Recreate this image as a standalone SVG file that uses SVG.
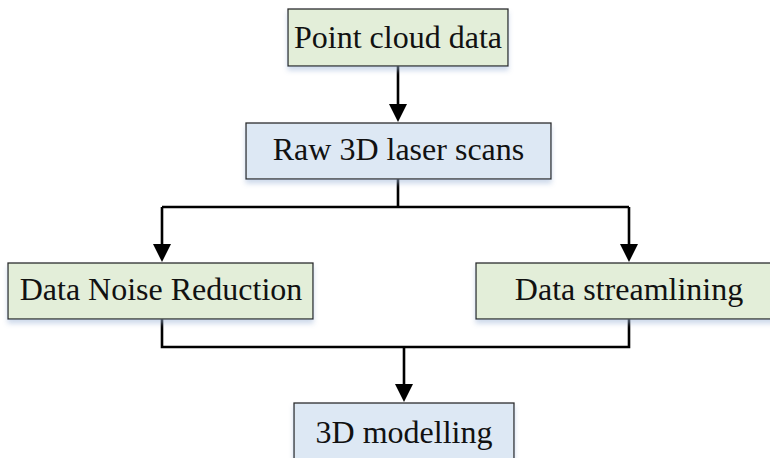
<svg xmlns="http://www.w3.org/2000/svg" width="770" height="458" viewBox="0 0 770 458">
<style>
.box{stroke:#2b2b2b;stroke-width:1.3;filter:url(#sh)}
.g{fill:#e3eed9}
.b{fill:#dde8f4}
.t{font-family:'Liberation Serif','Times New Roman','DejaVu Serif',serif;font-size:32px;fill:#111;text-anchor:middle}
.c{fill:none;stroke:#000;stroke-width:2.6}
</style>
<defs>
<filter id="sh" x="-10%" y="-20%" width="120%" height="160%">
<feGaussianBlur in="SourceAlpha" stdDeviation="2.5"/>
<feOffset dx="0" dy="4" result="o"/>
<feFlood flood-color="#9fb6d8" flood-opacity="0.5"/>
<feComposite in2="o" operator="in"/>
<feMerge><feMergeNode/><feMergeNode in="SourceGraphic"/></feMerge>
</filter>
</defs>
<g id="connectors">
<line class="c" x1="398" y1="66" x2="398" y2="106"/>
<path d="M389,104 L407,104 L398,122 Z"/>
<path class="c" d="M398,179 V207 M162,207 H629 M162,207 V246 M629,207 V246"/>
<path d="M153,244 L171,244 L162,262 Z"/>
<path d="M620,244 L638,244 L629,262 Z"/>
<path class="c" d="M162,319 V347 H629 V319 M404,347 V386"/>
<path d="M395,384 L413,384 L404,402 Z"/>
</g>
<g id="n1"><rect class="box g" x="288" y="9" width="220" height="57"/><text class="t" x="398" y="48">Point cloud data</text></g>
<g id="n2"><rect class="box b" x="246" y="123" width="305" height="56"/><text class="t" x="398.5" y="160">Raw 3D laser scans</text></g>
<g id="n3"><rect class="box g" x="8" y="263" width="305" height="56"/><text class="t" x="161" y="300">Data Noise Reduction</text></g>
<g id="n4"><rect class="box g" x="476" y="263" width="306" height="56"/><text class="t" x="629" y="300">Data streamlining</text></g>
<g id="n5"><rect class="box b" x="294" y="403" width="220" height="62"/><text class="t" x="404" y="443">3D modelling</text></g>
</svg>
